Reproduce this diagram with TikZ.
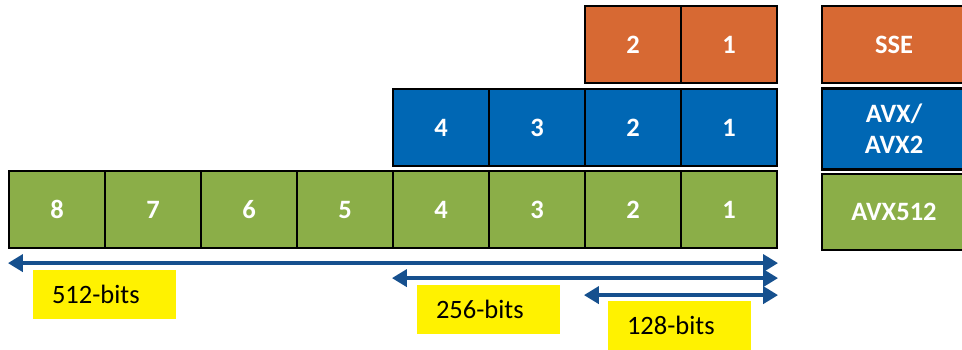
\documentclass[tikz,border=0pt]{standalone}
\usepackage{fontspec}
\setmainfont{Carlito}
\usetikzlibrary{arrows.meta}
\definecolor{sseorange}{RGB}{215,105,51}
\definecolor{avxblue}{RGB}{0,103,180}
\definecolor{avxgreen}{RGB}{139,174,72}
\definecolor{spanblue}{RGB}{22,80,142}
\begin{document}
\begin{tikzpicture}[x=1pt,y=-1pt,
  cell/.style={draw=black,line width=2.2pt,minimum width=96pt,minimum height=77pt,inner sep=0,
    text=white,align=center,font=\fontsize{26.5}{31}\selectfont\bfseries},
  bits/.style={fill=yellow,text width=105pt,inner xsep=19pt,inner ysep=0,minimum height=49pt,
    align=left,font=\fontsize{26.5}{28}\selectfont},
  span/.style={spanblue,line width=4.5pt,{Triangle[length=15pt,width=17pt]}-{Triangle[length=15pt,width=17pt]}}]
\useasboundingbox (0,0) rectangle (962,349);
%% register lanes
\foreach \i in {1,...,8}
  \node[cell,fill=avxgreen] (g\i) at (825-96*\i,209.5) {\i};
\foreach \i in {1,...,4}
  \node[cell,fill=avxblue] (b\i) at (825-96*\i,127.5) {\i};
\foreach \i in {1,2}
  \node[cell,fill=sseorange] (o\i) at (825-96*\i,44.5) {\i};
%% legend
\node[cell,fill=sseorange,minimum width=144pt] (sse) at (894,44.5) {SSE};
\node[cell,fill=avxblue,minimum width=144pt,minimum height=81pt] (avx) at (894,129) {AVX/\\AVX2};
\node[cell,fill=avxgreen,minimum width=144pt,minimum height=76pt] (avx512) at (894,212) {AVX512};
%% widths
\draw[span] ([yshift=-14pt]g8.south west) -- ([yshift=-14pt]g1.south east);
\draw[span] ([yshift=-29pt]g4.south west) -- ([yshift=-29pt]g1.south east);
\draw[span] ([yshift=-46pt]g2.south west) -- ([yshift=-46pt]g1.south east);
\node[bits] (w512) at (104.5,294.5) {512-bits};
\node[bits] (w256) at (488.5,309) {256-bits};
\node[bits] (w128) at (679.5,325.5) {128-bits};
\end{tikzpicture}
\end{document}
